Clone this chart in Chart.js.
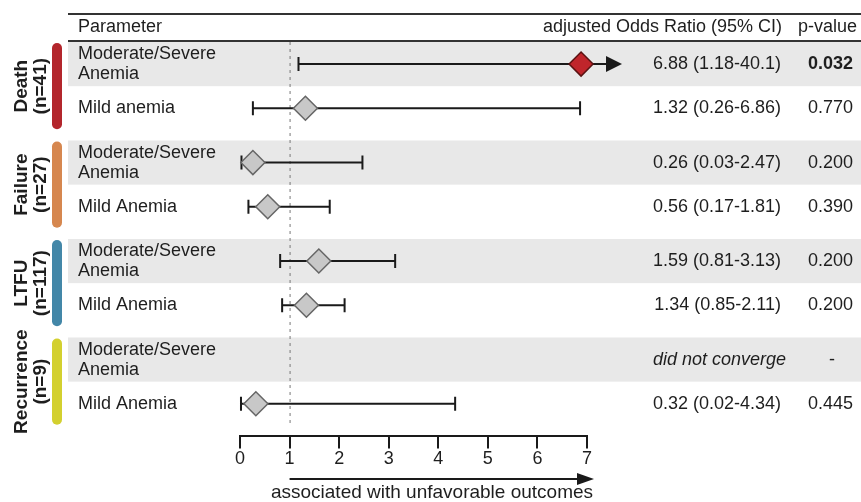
<!DOCTYPE html>
<html>
<head>
<meta charset="utf-8">
<script src="https://cdn.jsdelivr.net/npm/chart.js@4"></script>
<style>
  html, body { margin: 0; padding: 0; background: #fff; }
  canvas { display: block; }
</style>
</head>
<body>
<canvas id="forest" width="861" height="502"></canvas>
<script>
// Outcomes (one coloured bracket each) and their event counts
const outcomes = ['Death', 'Failure', 'LTFU', 'Recurrence'];
const outcomeCounts = ['(n=41)', '(n=27)', '(n=117)', '(n=9)'];
const outcomeColors = ['#b3262c', '#d6874f', '#4387a8', '#d3d02f'];

// One row per parameter within each outcome
const rowOutcome = [0, 0, 1, 1, 2, 2, 3, 3];
const parameters = [
  ['Moderate/Severe', 'Anemia'], ['Mild anemia'],
  ['Moderate/Severe', 'Anemia'], ['Mild Anemia'],
  ['Moderate/Severe', 'Anemia'], ['Mild Anemia'],
  ['Moderate/Severe', 'Anemia'], ['Mild Anemia']
];
const oddsRatio = [6.88, 1.32, 0.26, 0.56, 1.59, 1.34, null, 0.32];
const ciLower   = [1.18, 0.26, 0.03, 0.17, 0.81, 0.85, null, 0.02];
const ciUpper   = [40.1, 6.86, 2.47, 1.81, 3.13, 2.11, null, 4.34];
const ciText = [
  '6.88 (1.18-40.1)', '1.32 (0.26-6.86)',
  '0.26 (0.03-2.47)', '0.56 (0.17-1.81)',
  '1.59 (0.81-3.13)', '1.34 (0.85-2.11)',
  'did not converge', '0.32 (0.02-4.34)'
];
const pValues = ['0.032', '0.770', '0.200', '0.390', '0.200', '0.200', '-', '0.445'];
const xTicks = [0, 1, 2, 3, 4, 5, 6, 7];

const FONT = "'Liberation Sans', Arial, Helvetica, sans-serif";
const GROUP_STEP = 2.23;               // vertical distance between outcome blocks (in row units)
const rowPos = rowOutcome.map((g, i) => g * GROUP_STEP + (i % 2));
const isSignificant = pValues.map(p => p !== '-' && parseFloat(p) < 0.05);

const points = [];
const pointFill = [];
const pointStroke = [];
oddsRatio.forEach((v, i) => {
  if (v === null) return;
  points.push({ x: v, y: rowPos[i] });
  pointFill.push(isSignificant[i] ? '#c0252b' : '#c8c8c8');
  pointStroke.push(isSignificant[i] ? '#5a1212' : '#666666');
});

const TEXT = '#1e1e1e';

function arrowHead(ctx, tipX, y, len, half) {
  ctx.beginPath();
  ctx.moveTo(tipX, y);
  ctx.lineTo(tipX - len, y - half);
  ctx.lineTo(tipX - len, y + half);
  ctx.closePath();
  ctx.fill();
}

const forestPlugin = {
  id: 'forestDecor',
  beforeDraw(chart) {
    const { ctx, scales: { y } } = chart;
    const W = chart.width;
    ctx.save();
    // shaded first row of every outcome block
    ctx.fillStyle = '#e8e8e8';
    rowPos.forEach((p, i) => {
      if (i % 2 !== 0) return;
      const t = y.getPixelForValue(p - 0.5);
      const b = y.getPixelForValue(p + 0.5);
      ctx.fillRect(68, t, W - 68, b - t);
    });
    // header rules
    ctx.strokeStyle = '#333';
    ctx.lineWidth = 2;
    ctx.beginPath();
    ctx.moveTo(68, 14); ctx.lineTo(W, 14);
    ctx.moveTo(68, 41); ctx.lineTo(W, 41);
    ctx.stroke();
    ctx.restore();
  },
  beforeDatasetsDraw(chart) {
    const { ctx, scales: { x, y } } = chart;
    ctx.save();

    // reference line at OR = 1
    const x1 = x.getPixelForValue(1);
    ctx.strokeStyle = '#777';
    ctx.lineWidth = 1;
    ctx.setLineDash([3, 4]);
    ctx.beginPath();
    ctx.moveTo(x1 + 0.5, y.getPixelForValue(-0.5));
    ctx.lineTo(x1 + 0.5, y.getPixelForValue(rowPos[rowPos.length - 1] + 0.5));
    ctx.stroke();
    ctx.setLineDash([]);

    // confidence intervals (upper limits beyond the axis end in an arrow)
    ctx.strokeStyle = '#1a1a1a';
    ctx.fillStyle = '#1a1a1a';
    ctx.lineWidth = 2;
    oddsRatio.forEach((v, i) => {
      if (v === null) return;
      const py = y.getPixelForValue(rowPos[i]);
      const lo = x.getPixelForValue(ciLower[i]);
      const clipped = ciUpper[i] > x.max;
      const hi = clipped ? x.right + 35 : x.getPixelForValue(ciUpper[i]);
      ctx.beginPath();
      ctx.moveTo(lo, py);
      ctx.lineTo(clipped ? hi - 12 : hi, py);
      ctx.moveTo(lo, py - 7); ctx.lineTo(lo, py + 7);
      if (!clipped) { ctx.moveTo(hi, py - 7); ctx.lineTo(hi, py + 7); }
      ctx.stroke();
      if (clipped) arrowHead(ctx, hi, py, 16, 8);
    });

    // outcome brackets and rotated outcome labels
    outcomes.forEach((name, g) => {
      const base = g * GROUP_STEP;
      const t = y.getPixelForValue(base - 0.5);
      const b = y.getPixelForValue(base + 1.5);
      ctx.strokeStyle = outcomeColors[g];
      ctx.lineWidth = 10;
      ctx.lineCap = 'round';
      ctx.beginPath();
      ctx.moveTo(57, t + 6);
      ctx.lineTo(57, b - 6);
      ctx.stroke();
      ctx.lineCap = 'butt';

      ctx.save();
      ctx.translate(31, (t + b) / 2);
      ctx.rotate(-Math.PI / 2);
      ctx.fillStyle = TEXT;
      ctx.font = `bold 19px ${FONT}`;
      ctx.textAlign = 'center';
      ctx.textBaseline = 'middle';
      ctx.fillText(name, 0, -9.5);
      ctx.fillText(outcomeCounts[g], 0, 9.5);
      ctx.restore();
    });

    // header text
    ctx.fillStyle = TEXT;
    ctx.font = `18px ${FONT}`;
    ctx.textBaseline = 'middle';
    ctx.textAlign = 'left';
    ctx.fillText('Parameter', 78, 27);
    ctx.textAlign = 'right';
    ctx.fillText('adjusted Odds Ratio (95% CI)', 782, 27);
    ctx.fillText('p-value', 857, 27);

    // row text
    rowPos.forEach((p, i) => {
      const py = y.getPixelForValue(p);
      ctx.font = `18px ${FONT}`;
      ctx.textAlign = 'left';
      const lines = parameters[i];
      if (lines.length === 2) {
        ctx.fillText(lines[0], 78, py - 10);
        ctx.fillText(lines[1], 78, py + 10);
      } else {
        ctx.fillText(lines[0], 78, py);
      }
      ctx.textAlign = 'right';
      ctx.font = oddsRatio[i] === null ? `italic 18px ${FONT}` : `18px ${FONT}`;
      ctx.fillText(ciText[i], oddsRatio[i] === null ? 786 : 781, py);
      if (pValues[i] === '-') {
        ctx.textAlign = 'center';
        ctx.font = `18px ${FONT}`;
        ctx.fillText('-', 832, py);
      } else {
        ctx.font = isSignificant[i] ? `bold 18px ${FONT}` : `18px ${FONT}`;
        ctx.fillText(pValues[i], 853, py);
      }
    });

    // direction arrow under the axis
    const arrowY = 479;
    ctx.strokeStyle = '#1a1a1a';
    ctx.fillStyle = '#1a1a1a';
    ctx.lineWidth = 2;
    ctx.beginPath();
    ctx.moveTo(x1, arrowY);
    ctx.lineTo(580, arrowY);
    ctx.stroke();
    arrowHead(ctx, 594, arrowY, 17, 6);
    ctx.fillStyle = TEXT;
    ctx.font = `19px ${FONT}`;
    ctx.textAlign = 'center';
    ctx.fillText('associated with unfavorable outcomes', 432, 493);

    ctx.restore();
  }
};

new Chart(document.getElementById('forest'), {
  type: 'scatter',
  data: {
    datasets: [{
      data: points,
      clip: false,
      pointStyle: 'rectRot',
      pointRadius: 12,
      pointHoverRadius: 12,
      pointBackgroundColor: pointFill,
      pointBorderColor: pointStroke,
      pointBorderWidth: 1.5
    }]
  },
  options: {
    responsive: false,
    devicePixelRatio: 1,
    animation: false,
    events: [],
    layout: { padding: { left: 240, right: 274, top: 42, bottom: 32 } },
    plugins: { legend: { display: false }, tooltip: { enabled: false } },
    scales: {
      x: {
        type: 'linear',
        min: 0,
        max: 7,
        afterBuildTicks: (scale) => { scale.ticks = xTicks.map(v => ({ value: v })); },
        ticks: { color: TEXT, font: { family: FONT, size: 18 }, padding: 0 },
        grid: { drawOnChartArea: false, drawTicks: true, tickLength: 12, color: '#1a1a1a', lineWidth: 2 },
        border: { display: true, color: '#1a1a1a', width: 2 }
      },
      y: {
        type: 'linear',
        reverse: true,
        min: -0.5,
        max: 8.43,
        display: false
      }
    }
  },
  plugins: [forestPlugin]
});
</script>
</body>
</html>
